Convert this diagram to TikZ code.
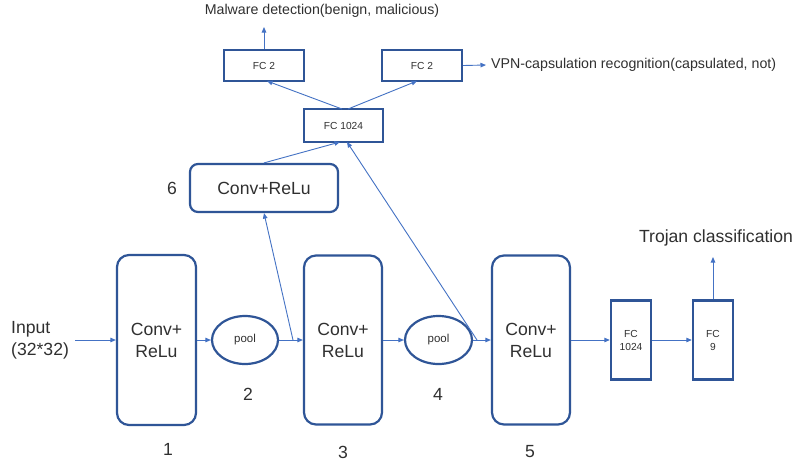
\documentclass[tikz,border=0pt]{standalone}
\usepackage{fontspec}
\setmainfont{Liberation Sans}
\usetikzlibrary{arrows.meta,shapes.geometric,calc}
\definecolor{boxblue}{HTML}{2F5597}
\definecolor{arrblue}{HTML}{4472C4}
\definecolor{txt}{HTML}{303030}
\begin{document}
\begin{tikzpicture}[x=1pt,y=-1pt,
  convbox/.style={draw=boxblue,line width=2.2pt,rounded corners=12pt,inner sep=0pt,align=center,text=txt,font=\fontsize{17.6}{22}\selectfont},
  poolell/.style={draw=boxblue,line width=2.2pt,ellipse,inner sep=0pt,text=txt,font=\fontsize{11.5}{13}\selectfont},
  fcbox/.style={draw=boxblue,line width=2.4pt,inner sep=0pt,align=center,text=txt,font=\fontsize{10.2}{13}\selectfont},
  lbl/.style={text=txt,inner sep=0pt,font=\fontsize{17.6}{22}\selectfont},
  smalllbl/.style={text=txt,inner sep=0pt,font=\fontsize{14.2}{17}\selectfont},
  arr/.style={draw=arrblue,line width=0.9pt,-{Triangle[length=5.5pt,width=4.5pt]}}
]
\useasboundingbox (0,0) rectangle (796,467);
\fill[white] (0,0) rectangle (796,467);

% main chain
\node[lbl,align=left,anchor=west] (in) at (11,340) {Input\\(32*32)};
\coordinate (instart) at (75,340);
\node[convbox,minimum width=79pt,minimum height=170pt] (c1) at (156.5,340) {Conv+\\ReLu};
\node[poolell,minimum width=66pt,minimum height=48pt] (p1) at (245,340) {pool};
\node[convbox,minimum width=78pt,minimum height=169pt] (c3) at (343,340) {Conv+\\ReLu};
\node[poolell,minimum width=67pt,minimum height=48pt] (p2) at (438.5,340) {pool};
\node[convbox,minimum width=78pt,minimum height=169pt] (c5) at (531,340) {Conv+\\ReLu};
\node[fcbox,minimum width=40pt,minimum height=79pt] (fa) at (631,340) {FC\\1024};
\node[fcbox,minimum width=40pt,minimum height=79pt] (f9) at (713,340) {FC\\9};

% branch
\node[convbox,rounded corners=8pt,minimum width=148pt,minimum height=48pt] (c6) at (264,188) {Conv+ReLu};
\node[fcbox,minimum width=79pt,minimum height=33pt] (ft) at (343.5,125.5) {FC 1024};
\node[fcbox,minimum width=80pt,minimum height=31pt] (f2l) at (264,65.5) {FC 2};
\node[fcbox,minimum width=80pt,minimum height=31pt] (f2r) at (422,65.5) {FC 2};

% labels
\node[lbl] (n1) at (168,449) {1};
\node[lbl] (n2) at (248,394) {2};
\node[lbl] (n3) at (343,452) {3};
\node[lbl] (n4) at (438,394) {4};
\node[lbl] (n5) at (530,452) {5};
\node[lbl] (n6) at (172,188) {6};
\node[lbl] (troj) at (716,238) {Trojan classification};
\node[smalllbl] (mal) at (322,11) {Malware detection(benign, malicious)};
\node[smalllbl,anchor=west] (vpn) at (491,65) {VPN-capsulation recognition(capsulated, not)};

\coordinate (b1) at (293,340);
\coordinate (b2) at (477,340);
\coordinate (trojtip) at (713,257);
\coordinate (maltip) at (264,27);
\coordinate (vpntip) at (486,65);
\coordinate (ftin1) at (340,142);
\coordinate (ftin2) at (347,142);
\coordinate (ftout1) at (342,109);
\coordinate (ftout2) at (348,109);
\coordinate (f2lin) at (267,81);
\coordinate (f2rin) at (417,81);

% connectors
\draw[arr] (instart) -- (c1.west);
\draw[arr] (c1.east) -- (p1.west);
\draw[arr] (p1.east) -- (c3.west);
\draw[arr] (c3.east) -- (p2.west);
\draw[arr] (p2.east) -- (c5.west);
\draw[arr] (c5.east) -- (fa.west);
\draw[arr] (fa.east) -- (f9.west);
\draw[arr] (f9.north) -- (trojtip);
\draw[arr] (b1) -- (c6.south);
\draw[arr] (b2) -- (ftin2);
\draw[arr] (c6.north) -- (ftin1);
\draw[arr] (ftout1) -- (f2lin);
\draw[arr] (ftout2) -- (f2rin);
\draw[arr] (f2l.north) -- (maltip);
\draw[arr] (f2r.east) -- (vpntip);
\end{tikzpicture}
\end{document}
